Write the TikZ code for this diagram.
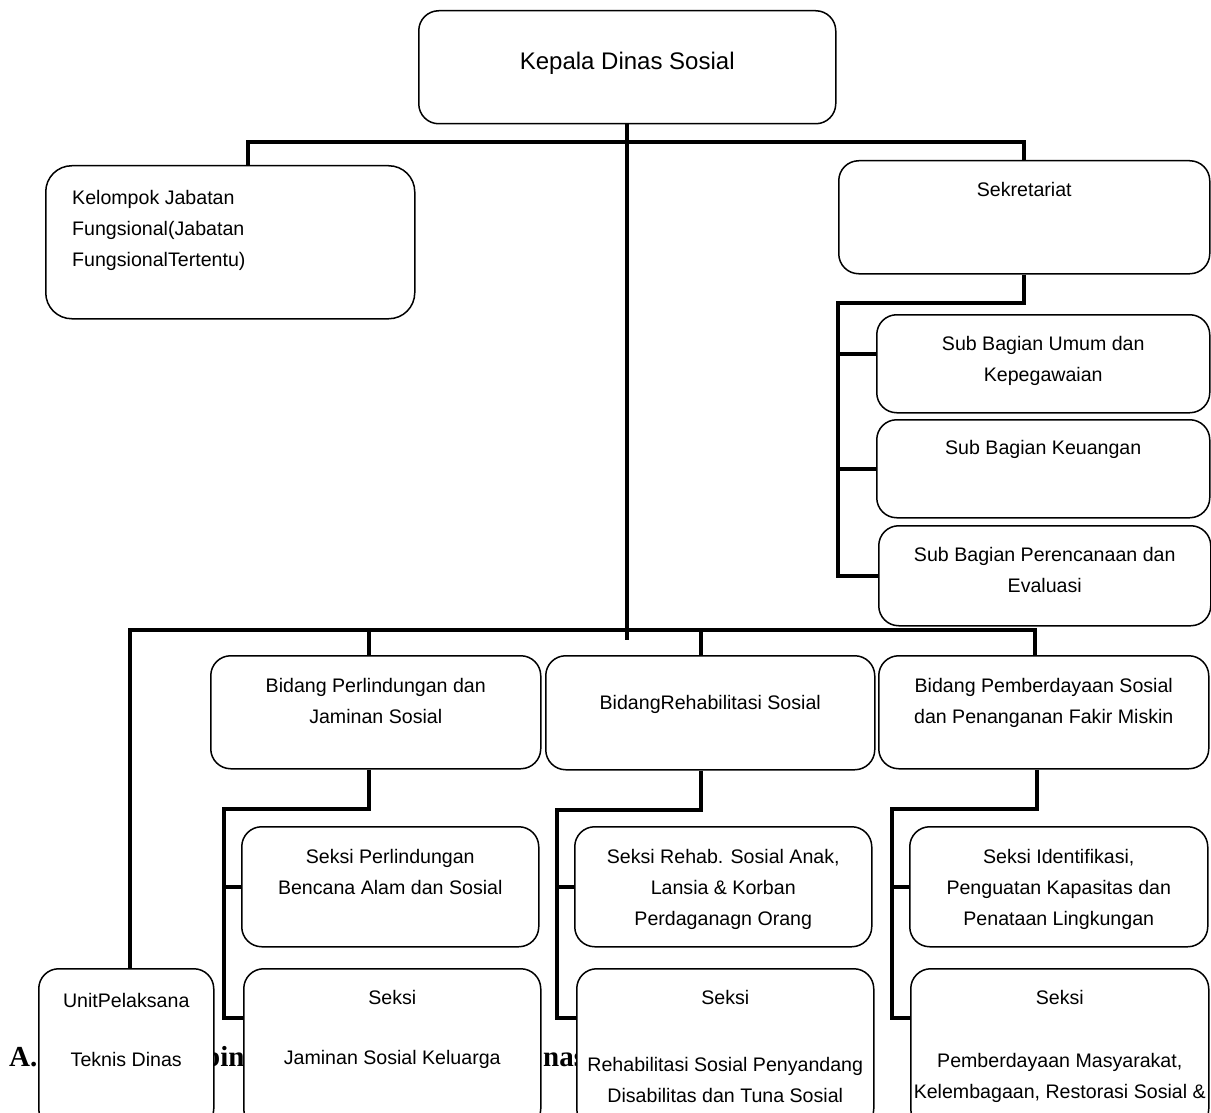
\documentclass[tikz,border=0pt]{standalone}
\usepackage{fontspec}
\setmainfont{Liberation Sans}
\newfontfamily\headfont{Liberation Serif}
\usetikzlibrary{positioning}
\tikzset{
  unit/.style={draw, fill=white, line width=1.5pt, rounded corners=20pt, anchor=north west, inner sep=0pt},
  boxtext/.style={align=center, inner sep=0pt, font=\fontsize{19.6}{31}\selectfont},
  link/.style={line width=4pt},
  heading/.style={anchor=base west, inner sep=0pt, font=\headfont\bfseries\fontsize{29}{29}\selectfont}
}
\begin{document}
\begin{tikzpicture}[x=1pt, y=-1pt]
    \useasboundingbox (0,0) rectangle (1211,1113);
    \clip (0,0) rectangle (1211,1113);

    % heading, partly hidden by the lowest boxes
    \node[heading] (headA) at (9,1066) {A.};
    \node[heading] (headB) at (204,1066) {bin};
    \node[heading] (headC) at (543,1066) {nas};

    % boxes
    \node[unit, minimum width=417pt, minimum height=113pt] (kepala) at (418,10) {};
    \node[unit, minimum width=369pt, minimum height=153pt, rounded corners=26pt] (kjf) at (45,165) {};
    \node[unit, minimum width=371pt, minimum height=113pt] (sek) at (838,160) {};
    \node[unit, minimum width=333pt, minimum height=98pt] (subum) at (876,314) {};
    \node[unit, minimum width=333pt, minimum height=98pt] (subkeu) at (876,419) {};
    \node[unit, minimum width=332pt, minimum height=100pt] (subren) at (878,525) {};

    \node[unit, minimum width=330pt, minimum height=113pt] (bid1) at (210,655) {};
    \node[unit, minimum width=329pt, minimum height=114pt] (bid2) at (545,655) {};
    \node[unit, minimum width=330pt, minimum height=113pt] (bid3) at (878,655) {};

    \node[unit, minimum width=297pt, minimum height=120pt] (sk1a) at (241,826) {};
    \node[unit, minimum width=297pt, minimum height=120pt] (sk2a) at (574,826) {};
    \node[unit, minimum width=298pt, minimum height=120pt] (sk3a) at (909,826) {};

    \node[unit, minimum width=175pt, minimum height=160pt] (upt) at (38,968) {};
    \node[unit, minimum width=297pt, minimum height=160pt] (sk1b) at (243,968) {};
    \node[unit, minimum width=297pt, minimum height=160pt] (sk2b) at (576,968) {};
    \node[unit, minimum width=298pt, minimum height=160pt] (sk3b) at (910,968) {};

    % texts
    \node[boxtext, font=\fontsize{24}{30}\selectfont, below=42pt of kepala.north] (kepalatxt) {Kepala Dinas Sosial};
    \node[boxtext, align=left, below right=25pt and 27pt of kjf.north west] (kjftxt) {Kelompok Jabatan\\Fungsional(Jabatan\\FungsionalTertentu)};
    \node[boxtext, below=22pt of sek.north] (sektxt) {Sekretariat};
    \node[boxtext, below=22pt of subum.north] (subumtxt) {Sub Bagian Umum dan\\Kepegawaian};
    \node[boxtext, below=21pt of subkeu.north] (subkeutxt) {Sub Bagian Keuangan};
    \node[boxtext, below=22pt of subren.north] (subrentxt) {Sub Bagian Perencanaan dan\\Evaluasi};

    \node[boxtext, below=23pt of bid1.north] (bid1txt) {Bidang Perlindungan dan\\Jaminan Sosial};
    \node[boxtext, below=40pt of bid2.north] (bid2txt) {BidangRehabilitasi Sosial};
    \node[boxtext, below=23pt of bid3.north] (bid3txt) {Bidang Pemberdayaan Sosial\\dan Penanganan Fakir Miskin};

    \node[boxtext, below=23pt of sk1a.north] (sk1atxt) {Seksi Perlindungan\\Bencana Alam dan Sosial};
    \node[boxtext, below=23pt of sk2a.north] (sk2atxt) {Seksi Rehab. Sosial Anak,\\Lansia \& Korban\\Perdaganagn Orang};
    \node[boxtext, below=23pt of sk3a.north] (sk3atxt) {Seksi Identifikasi,\\Penguatan Kapasitas dan\\Penataan Lingkungan};

    \node[boxtext, below=25pt of upt.north] (upttxt) {UnitPelaksana\\[28pt]Teknis Dinas};
    \node[boxtext, below=22pt of sk1b.north] (sk1btxt) {Seksi\\[29pt]Jaminan Sosial Keluarga};
    \node[boxtext, below=22pt of sk2b.north] (sk2btxt) {Seksi\\[36pt]Rehabilitasi Sosial Penyandang\\Disabilitas dan Tuna Sosial};
    \node[boxtext, below=22pt of sk3b.north] (sk3btxt) {Seksi\\[32pt]Pemberdayaan Masyarakat,\\Kelembagaan, Restorasi Sosial \&};

    % connectors
    \draw[link] ([xshift=18pt]kjf.north) |- ([yshift=-18pt]kepala.south) -| (sek.north);
    \draw[link] (kepala.south) -- ([yshift=15pt]kepala.south |- bid2.north);
    \draw[link] ([xshift=4pt]upt.north) |- ([xshift=-9pt,yshift=25pt]bid3.north) -- ([xshift=-9pt]bid3.north);
    \draw[link] ([xshift=-7pt]bid1.north) -- ([xshift=-7pt,yshift=25pt]bid1.north);
    \draw[link] ([xshift=-9pt]bid2.north) -- ([xshift=-9pt,yshift=25pt]bid2.north);

    \draw[link] (sek.south) -- ++(0,28) -| ([xshift=-40pt]subren.west) -- (subren.west);
    \draw[link] ([xshift=-38pt,yshift=10pt]subum.west) -- ([yshift=10pt]subum.west);
    \draw[link] ([xshift=-38pt]subkeu.west) -- (subkeu.west);

    \draw[link] ([xshift=-7pt]bid1.south) -- ++(0,39) -| ([xshift=-19pt,yshift=-50pt]sk1b.north west) -- ([yshift=-50pt]sk1b.north west);
    \draw[link] ([xshift=-17pt]sk1a.west) -- (sk1a.west);
    \draw[link] ([xshift=-9pt]bid2.south) -- ++(0,39) -| ([xshift=-19pt,yshift=-50pt]sk2b.north west) -- ([yshift=-50pt]sk2b.north west);
    \draw[link] ([xshift=-17pt]sk2a.west) -- (sk2a.west);
    \draw[link] ([xshift=-7pt]bid3.south) -- ++(0,39) -| ([xshift=-18pt,yshift=-50pt]sk3b.north west) -- ([yshift=-50pt]sk3b.north west);
    \draw[link] ([xshift=-17pt]sk3a.west) -- (sk3a.west);
\end{tikzpicture}
\end{document}
